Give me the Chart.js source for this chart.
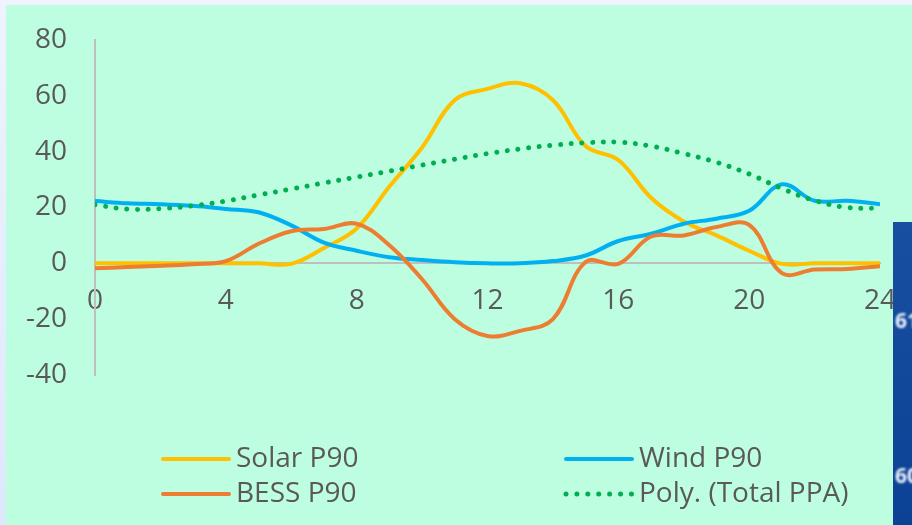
<!DOCTYPE html>
<html>
<head>
<meta charset="utf-8">
<script src="https://cdn.jsdelivr.net/npm/chart.js@4.4.1/dist/chart.umd.min.js"></script>
<style>
  html, body { margin: 0; padding: 0; }
  body { width: 912px; height: 525px; overflow: hidden; background: #eef3fe; position: relative; }
  #frame { position: absolute; left: 0; top: 0; width: 6px; height: 525px;
           background: linear-gradient(#eef3fe, #dce9fb); }
  #panel { position: absolute; left: 6px; top: 5px; width: 906px; height: 520px; background: #bdfee1; }
  #wrap { position: absolute; left: 0; top: 0; width: 912px; height: 525px; }
  #side { position: absolute; left: 893px; top: 222px; width: 19px; height: 303px;
          background: linear-gradient(#184f9f, #0c4295); overflow: hidden;
          font-family: "Open Sans", sans-serif; font-weight: 700; font-size: 21px; color: #eef2fa; }
  #side span { position: absolute; left: 2px; filter: blur(0.8px); }
</style>
</head>
<body>
<div id="frame"></div>
<div id="panel"></div>
<div id="wrap"><canvas id="c" width="912" height="525"></canvas></div>
<div id="side"><span style="top:84px">61</span><span style="top:239px">60</span></div>
<script>
// Hourly generation profile (MW) over one day
const hours = [0, 1, 2, 3, 4, 5, 6, 7, 8, 9, 10, 11, 12, 13, 14, 15, 16, 17, 18, 19, 20, 21, 22, 23, 24];
const solarP90 = [0, 0, 0, 0, 0, 0, -0.2, 5.5, 12.5, 27.5, 41.5, 58.5, 62.5, 64.5, 58.5, 42, 37, 23.5, 15, 10, 4.5, -0.2, 0, 0, 0];
const windP90 = [22.3, 21.5, 21.2, 20.6, 19.5, 18.3, 13.6, 7.4, 4.5, 2.2, 1.2, 0.4, 0, 0, 0.8, 2.8, 8, 10.6, 14.2, 16, 18.8, 28.3, 22.4, 22.4, 21.2];
const bessP90 = [-1.8, -1.3, -0.9, -0.3, 0.8, 7, 11.5, 12.3, 14.2, 6.5, -5.7, -20, -26, -24.2, -20, 0.5, -0.2, 9.6, 10, 13, 13.8, -3.5, -2.2, -2, -1];
const polyTotalPPA = [21, 19.4, 19.6, 20.6, 22.3, 24.5, 26.6, 28.8, 30.9, 33, 35.2, 37.3, 39.3, 41, 42.3, 43.2, 43.4, 42, 39.3, 36.2, 32, 26.8, 22.5, 20, 19.7];

// Axis tick labels
const xTickValues = [0, 4, 8, 12, 16, 20, 24];
const yTickValues = [-40, -20, 0, 20, 40, 60, 80];

const seriesLabels = ['Solar P90', 'Wind P90', 'BESS P90', 'Poly. (Total PPA)'];
const seriesColors = ['#ffc000', '#00b0f0', '#ed7d31', '#00b050'];

const FONT = '"Open Sans", sans-serif';
const TEXT = '#595959';
const DOTS = [0.01, 10.7];

const toPoints = (vals) => hours.map((h, i) => ({ x: h, y: vals[i] }));

// Two-column legend drawn under the plot
const gridLegend = {
  id: 'gridLegend',
  afterDraw(chart) {
    const ctx = chart.ctx;
    const colX = [160, 563];
    const rowY = [459, 494];
    const sampleLen = 69;
    ctx.save();
    ctx.font = '28px ' + FONT;
    ctx.textBaseline = 'middle';
    ctx.textAlign = 'left';
    chart.data.datasets.forEach((ds, i) => {
      const x = colX[i % 2];
      const y = rowY[Math.floor(i / 2)];
      const dotted = ds.borderDash && ds.borderDash.length;
      ctx.beginPath();
      ctx.strokeStyle = ds.borderColor;
      ctx.lineWidth = dotted ? 5 : 4;
      ctx.lineCap = 'round';
      ctx.setLineDash(dotted ? [0.01, 10.9] : []);
      ctx.moveTo(x + 3, y);
      ctx.lineTo(x + sampleLen, y);
      ctx.stroke();
      ctx.setLineDash([]);
      ctx.fillStyle = TEXT;
      ctx.fillText(ds.label, x + sampleLen + 7, y);
    });
    ctx.restore();
  }
};

const makeSet = (i, vals, extra) => Object.assign({
  label: seriesLabels[i],
  data: toPoints(vals),
  borderColor: seriesColors[i],
  backgroundColor: seriesColors[i],
  borderWidth: 4,
  pointRadius: 0,
  tension: 0.38,
  fill: false
}, extra || {});

new Chart(document.getElementById('c'), {
  type: 'line',
  data: {
    datasets: [
      makeSet(0, solarP90, { order: 4 }),
      makeSet(1, windP90, { order: 3 }),
      makeSet(2, bessP90, { order: 2 }),
      makeSet(3, polyTotalPPA, { order: 1, borderWidth: 5, borderDash: DOTS, borderCapStyle: 'round', tension: 0.4 })
    ]
  },
  options: {
    responsive: false,
    animation: false,
    events: [],
    layout: { padding: { left: 0, right: 32, top: 40, bottom: 150 } },
    plugins: { legend: { display: false }, tooltip: { enabled: false } },
    scales: {
      x: {
        type: 'linear',
        position: { y: 0 },
        min: 0, max: 24,
        afterBuildTicks: (s) => { s.ticks = xTickValues.map(v => ({ value: v })); },
        afterFit: (s) => { s.paddingLeft = 0; s.paddingRight = 0; },
        grid: { display: false, drawTicks: false },
        border: { display: true, color: '#bfbfbf', width: 2 },
        ticks: { color: TEXT, font: { family: FONT, size: 28 }, padding: 21, maxRotation: 0, autoSkip: false }
      },
      y: {
        min: -40, max: 80,
        afterBuildTicks: (s) => { s.ticks = yTickValues.map(v => ({ value: v })); },
        afterFit: (s) => { s.width = 95; s.paddingTop = 0; s.paddingBottom = 0; },
        grid: { display: false, drawTicks: false },
        border: { display: true, color: '#bfbfbf', width: 2 },
        ticks: { color: TEXT, font: { family: FONT, size: 28 }, padding: 28, autoSkip: false }
      }
    }
  },
  plugins: [gridLegend]
});
</script>
</body>
</html>
